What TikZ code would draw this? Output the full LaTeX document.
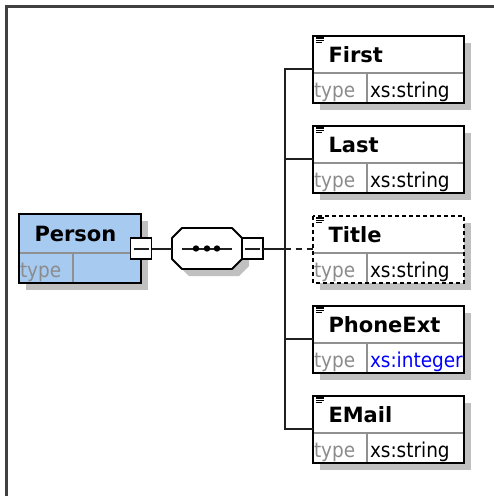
\documentclass[tikz,border=0pt]{standalone}
\usepackage{fontspec}
\newfontfamily\namefamily{DejaVu Sans}
\newfontfamily\cellfamily{DejaVu Sans Condensed}
\newcommand{\namefont}{\namefamily\bfseries\fontsize{21}{23}\selectfont}
\newcommand{\cellfont}{\cellfamily\fontsize{20.5}{24}\selectfont}
\definecolor{persbg}{HTML}{A6CAF0}
\definecolor{shadowgray}{HTML}{C0C0C0}
\definecolor{cellline}{HTML}{909090}
\definecolor{typegray}{HTML}{8C8C8C}
\definecolor{framegray}{HTML}{404040}
\definecolor{wirefg}{HTML}{202020}
\definecolor{intblue}{HTML}{0000FF}
\usetikzlibrary{positioning}
\usetikzlibrary{shadows}

\begin{document}
\begin{tikzpicture}[x=1pt, y=-1pt,
    every node/.style = {outer sep=0pt},
    shad/.style = {drop shadow={shadow xshift=7pt, shadow yshift=-7pt, fill=shadowgray, opacity=1}},
    elhead/.style = {rectangle, fill=white, shad, anchor=north west, minimum width=151pt, minimum height=37pt, text width=120pt, inner xsep=15.5pt, inner ysep=0pt, align=left, font=\namefont, text height=15pt, text depth=0pt},
    typecell/.style = {rectangle, fill=white, shad, anchor=north west, minimum width=54pt, minimum height=30pt, text width=52pt, inner xsep=1pt, inner ysep=0pt, align=left, text=typegray, font=\cellfont, text height=23pt, text depth=4pt},
    valcell/.style = {typecell, minimum width=97pt, text width=91pt, inner xsep=3pt, text=black},
    minusbox/.style = {rectangle, draw=black, fill=white, line width=1.6pt, minimum width=21pt, minimum height=21pt, inner sep=0pt},
    seqbox/.style = {rectangle, minimum width=70pt, minimum height=41pt, inner sep=0pt},
    seqline/.style = {draw=black, fill=white, line width=1.8pt, line join=round, shad},
    wire/.style = {draw=wirefg, line width=2pt},
    optwire/.style = {wire, dash pattern=on 6pt off 5pt},
    outline/.style = {draw=black, line width=2pt},
    optline/.style = {outline, dash pattern=on 4pt off 3pt},
    divider/.style = {draw=cellline, line width=1.4pt},
    icon/.style = {draw=black, line width=1.3pt},
    frame/.style = {draw=framegray, line width=2.5pt}]

\useasboundingbox (0,0) rectangle (494,496);
\draw[frame] (6.5,496) -- (6.5,6.5) -- (494,6.5);

\node[elhead, fill=persbg, minimum width=122pt, minimum height=39pt, text width=91pt] (person) at (19,214) {Person};
\node[typecell, fill=persbg] (persont) at (person.south west) {type};
\node[valcell, fill=persbg, minimum width=68pt, text width=62pt, right=0pt of persont] (personv) {};
\draw[divider] (person.south west) -- (person.south east);
\draw[divider] (persont.north east) -- (persont.south east);
\draw[outline] (person.north west) rectangle (personv.south east);
\node[minusbox] (pmin) at ([yshift=4.5pt]person.south east) {};
\draw[wire] ([xshift=3pt]pmin.west) -- ([xshift=-3pt]pmin.east);

\node[seqbox, right=20.5pt of pmin] (seq) {};
\path[seqline] ([xshift=10pt]seq.north west) -- ([xshift=-10pt]seq.north east)
  -- ([yshift=-10pt]seq.north east) -- ([yshift=10pt]seq.south east)
  -- ([xshift=-10pt]seq.south east) -- ([xshift=10pt]seq.south west)
  -- ([yshift=10pt]seq.south west) -- ([yshift=-10pt]seq.north west) -- cycle;
\draw[wire] ([xshift=10pt]seq.west) -- ([xshift=-10pt]seq.east);
\fill ([xshift=-11pt]seq.center) circle (3.2pt);
\fill (seq.center) circle (3.2pt);
\fill ([xshift=10pt]seq.center) circle (3.2pt);
\node[minusbox, right=0pt of seq] (smin) {};
\draw[wire] ([xshift=3pt]smin.west) -- ([xshift=-3pt]smin.east);
\draw[wire] (pmin) -- (seq);
\coordinate[right=21.5pt of smin] (bus);
\draw[wire] (smin) -- (bus);

\node[elhead] (first) at (313,36) {First};
\node[typecell] (firstt) at (first.south west) {type};
\node[valcell, right=0pt of firstt] (firstv) {xs:string};
\draw[divider] (first.south west) -- (first.south east);
\draw[divider] (firstt.north east) -- (firstt.south east);
\draw[outline] (first.north west) rectangle (firstv.south east);

\node[elhead, below=23pt of firstt.south west, anchor=north west] (last) {Last};
\node[typecell] (lastt) at (last.south west) {type};
\node[valcell, right=0pt of lastt] (lastv) {xs:string};
\draw[divider] (last.south west) -- (last.south east);
\draw[divider] (lastt.north east) -- (lastt.south east);
\draw[outline] (last.north west) rectangle (lastv.south east);

\node[elhead, below=23pt of lastt.south west, anchor=north west] (title) {Title};
\node[typecell] (titlet) at (title.south west) {type};
\node[valcell, right=0pt of titlet] (titlev) {xs:string};
\draw[divider] (title.south west) -- (title.south east);
\draw[divider] (titlet.north east) -- (titlet.south east);
\draw[optline] (title.north west) rectangle (titlev.south east);

\node[elhead, below=23pt of titlet.south west, anchor=north west] (phone) {PhoneExt};
\node[typecell] (phonet) at (phone.south west) {type};
\node[valcell, text=intblue, right=0pt of phonet] (phonev) {xs:integer};
\draw[divider] (phone.south west) -- (phone.south east);
\draw[divider] (phonet.north east) -- (phonet.south east);
\draw[outline] (phone.north west) rectangle (phonev.south east);

\node[elhead, below=23pt of phonet.south west, anchor=north west] (email) {EMail};
\node[typecell] (emailt) at (email.south west) {type};
\node[valcell, right=0pt of emailt] (emailv) {xs:string};
\draw[divider] (email.south west) -- (email.south east);
\draw[divider] (emailt.north east) -- (emailt.south east);
\draw[outline] (email.north west) rectangle (emailv.south east);

\draw[icon] ([shift={(3pt,-2pt)}]first.north west) -- +(8pt,0pt);
\draw[icon] ([shift={(3pt,-4.3pt)}]first.north west) -- +(8pt,0pt);
\draw[icon] ([shift={(3pt,-6.6pt)}]first.north west) -- +(6pt,0pt);
\draw[icon] ([shift={(3pt,-2pt)}]last.north west) -- +(8pt,0pt);
\draw[icon] ([shift={(3pt,-4.3pt)}]last.north west) -- +(8pt,0pt);
\draw[icon] ([shift={(3pt,-6.6pt)}]last.north west) -- +(6pt,0pt);
\draw[icon] ([shift={(3pt,-2pt)}]title.north west) -- +(8pt,0pt);
\draw[icon] ([shift={(3pt,-4.3pt)}]title.north west) -- +(8pt,0pt);
\draw[icon] ([shift={(3pt,-6.6pt)}]title.north west) -- +(6pt,0pt);
\draw[icon] ([shift={(3pt,-2pt)}]phone.north west) -- +(8pt,0pt);
\draw[icon] ([shift={(3pt,-4.3pt)}]phone.north west) -- +(8pt,0pt);
\draw[icon] ([shift={(3pt,-6.6pt)}]phone.north west) -- +(6pt,0pt);
\draw[icon] ([shift={(3pt,-2pt)}]email.north west) -- +(8pt,0pt);
\draw[icon] ([shift={(3pt,-4.3pt)}]email.north west) -- +(8pt,0pt);
\draw[icon] ([shift={(3pt,-6.6pt)}]email.north west) -- +(6pt,0pt);

\draw[wire] ([yshift=4.5pt]first.south west) -| (bus);
\draw[wire] ([yshift=4.5pt]last.south west) -| (bus);
\draw[optwire] (bus) -- ([yshift=4.5pt]title.south west);
\draw[wire] ([yshift=4.5pt]phone.south west) -| (bus);
\draw[wire] ([yshift=4.5pt]email.south west) -| (bus);

\end{tikzpicture}
\end{document}
